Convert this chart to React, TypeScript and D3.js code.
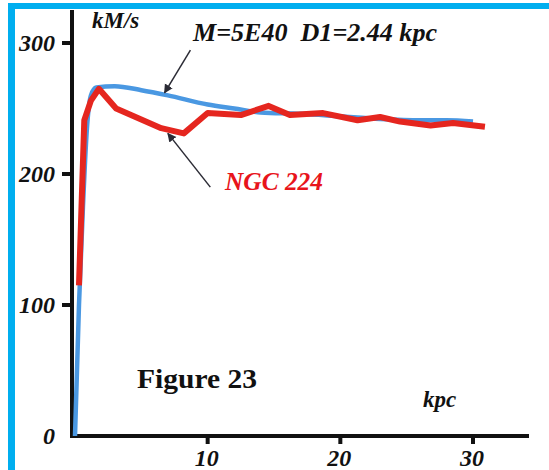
import { scaleLinear, line, curveMonotoneX, curveLinear } from 'd3'

// rotation curve data (r in kpc, v in kM/s)
const modelR = [0, 0.3, 0.6, 0.9, 1.2, 1.6, 3, 5, 7, 10, 12, 14, 17, 20, 23, 26, 28, 30]
const modelV = [0, 100, 175, 235, 260, 266, 267, 264, 260, 253, 250, 247, 246, 244, 242, 241, 241, 240]

const ngcR = [0.3, 0.7, 1.2, 1.8, 3.1, 6.5, 8.2, 10, 12.5, 14.6, 16.2, 18.7, 21.3, 23, 24.5, 26.8, 28.5, 30.9]
const ngcV = [115, 241, 256, 265, 250, 235, 231, 246.5, 245, 252, 245, 246.5, 241, 243.5, 240, 237, 239, 236]

const yTicks = [0, 100, 200, 300]
const xTicks = [10, 20, 30]

const serif = '"Liberation Serif", "Times New Roman", serif'

export default function App() {
  const x = scaleLinear().domain([0, 30]).range([75, 473])
  const y = scaleLinear().domain([0, 300]).range([436, 43])

  const path = (rs: number[], vs: number[], curve: any) =>
    line<number>()
      .x((_, i) => x(rs[i]))
      .y((v) => y(v))
      .curve(curve)(vs) as string

  // arrows in data coords: [tailR, tailV, tipR, tipV]
  const arrows = [
    [8.7, 294.5, 6.75, 262],
    [10.2, 190, 7.0, 231],
  ]

  return (
    <svg
      width={549}
      height={470}
      style={{ position: 'absolute', left: 0, top: 0, background: '#fff' }}
    >
      <defs>
        <marker id="head" viewBox="0 0 10 10" refX="9" refY="5" markerWidth="6" markerHeight="7" orient="auto">
          <path d="M0,0 L10,5 L0,10 z" fill="#2b2b35" />
        </marker>
      </defs>
      {/* frame */}
      <rect x={8} y={3} width={541} height={6} fill="#00aeef" />
      <rect x={8} y={3} width={7} height={467} fill="#00aeef" />

      {/* axes */}
      <line x1={72} y1={10} x2={72} y2={438} stroke="#111" strokeWidth={4} />
      <line x1={70} y1={436} x2={529} y2={436} stroke="#111" strokeWidth={4} />
      {yTicks.filter((t) => t > 0).map((t) => (
        <line key={t} x1={62} x2={72} y1={y(t)} y2={y(t)} stroke="#111" strokeWidth={4} />
      ))}
      {xTicks.map((t) => (
        <line key={t} x1={x(t)} x2={x(t)} y1={436} y2={444} stroke="#111" strokeWidth={4} />
      ))}
      <g fontFamily={serif} fontWeight="bold" fontStyle="italic" fontSize={24} fill="#111">
        {yTicks.map((t) => (
          <text key={t} x={55} y={y(t) + 8} textAnchor="end">
            {t}
          </text>
        ))}
        {xTicks.map((t) => (
          <text key={t} x={x(t) - 1} y={466} textAnchor="middle">
            {t}
          </text>
        ))}
        <text x={92} y={28} fontSize={23}>kM/s</text>
        <text x={423} y={407} fontSize={23}>kpc</text>
        <text x={193} y={41} fontSize={25} textLength={244} lengthAdjust="spacingAndGlyphs" style={{ whiteSpace: 'pre' }}>
          M=5E40  D1=2.44 kpc
        </text>
        <text x={225} y={190} fontSize={25} fill="#e8141b" textLength={98} lengthAdjust="spacingAndGlyphs">
          NGC 224
        </text>
      </g>
      <text x={137} y={388} fontFamily={serif} fontWeight="bold" fontSize={28} fill="#111" textLength={120} lengthAdjust="spacingAndGlyphs">
        Figure 23
      </text>

      {/* curves */}
      <path d={path(modelR, modelV, curveMonotoneX)} fill="none" stroke="#4a98e2" strokeWidth={4.5} strokeLinejoin="round" />
      <path d={path(ngcR, ngcV, curveLinear)} fill="none" stroke="#e5261f" strokeWidth={6} strokeLinejoin="round" />

      {arrows.map((a, i) => (
        <line
          key={i}
          x1={x(a[0])}
          y1={y(a[1])}
          x2={x(a[2])}
          y2={y(a[3])}
          stroke="#2b2b35"
          strokeWidth={1.5}
          markerEnd="url(#head)"
        />
      ))}
    </svg>
  )
}
